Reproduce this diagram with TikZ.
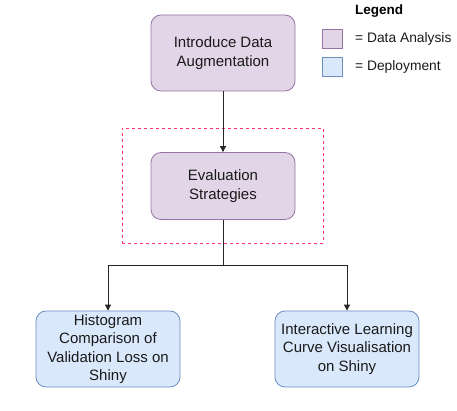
\documentclass[tikz,border=0pt]{standalone}
\usepackage{fontspec}
\setmainfont{Liberation Sans}
\usetikzlibrary{arrows.meta}
\definecolor{pfill}{HTML}{E1D5E7}
\definecolor{pdraw}{HTML}{9673A6}
\definecolor{bfill}{HTML}{DAE8FC}
\definecolor{bdraw}{HTML}{6C8EBF}
\definecolor{reddash}{HTML}{FF3366}
\definecolor{txt}{HTML}{1A1A1A}
\begin{document}
\begin{tikzpicture}[x=1pt,y=-1pt,
  box/.style={rounded corners=10pt,minimum width=144pt,align=center,font=\fontsize{15}{18.5}\selectfont,text=txt,inner sep=1pt},
  pbox/.style={box,fill=pfill,draw=pdraw,line width=0.8pt},
  bbox/.style={box,fill=bfill,draw=bdraw,line width=0.8pt},
  swatch/.style={minimum width=20pt,minimum height=19pt,inner sep=0pt,line width=0.8pt},
  conn/.style={draw=black!85,line width=0.9pt},
  arr/.style={conn,-{Triangle[length=6pt,width=6pt]}},
  legtxt/.style={anchor=west,font=\fontsize{13.8}{16}\selectfont,text=txt,inner sep=0pt}]
\useasboundingbox (0,0) rectangle (457,411);
\node[pbox,minimum height=76pt] (intro) at (223,53) {Introduce Data\\Augmentation};
\node[pbox,minimum height=67pt] (eval) at (223,186) {Evaluation\\Strategies};
\node[draw=reddash,dashed,line width=0.8pt,minimum width=201pt,minimum height=115pt,inner sep=0pt] (frame) at (222.5,185.5) {};
\node[bbox,minimum height=76pt] (hist) at (108,349) {Histogram\\Comparison of\\Validation Loss on\\Shiny};
\node[bbox,minimum height=76pt] (curve) at (347,349) {Interactive Learning\\Curve Visualisation\\on Shiny};
\coordinate (split) at (223,265);
\coordinate (hl) at (108,265);
\coordinate (hr) at (347,265);
\draw[arr] (intro.south) -- (eval.north);
\draw[conn] (eval.south) -- (split);
\draw[arr] (split) -- (hl) -- (hist.north);
\draw[arr] (split) -- (hr) -- (curve.north);
\node[anchor=west,font=\bfseries\fontsize{13.5}{16}\selectfont,inner sep=0pt] (legend) at (355,11) {Legend};
\node[swatch,fill=pfill,draw=pdraw] (sw1) at (332,38.5) {};
\node[swatch,fill=bfill,draw=bdraw] (sw2) at (332,67) {};
\node[legtxt] (l1) at (355,39) {= Data Analysis};
\node[legtxt] (l2) at (355,67) {= Deployment};
\end{tikzpicture}
\end{document}
